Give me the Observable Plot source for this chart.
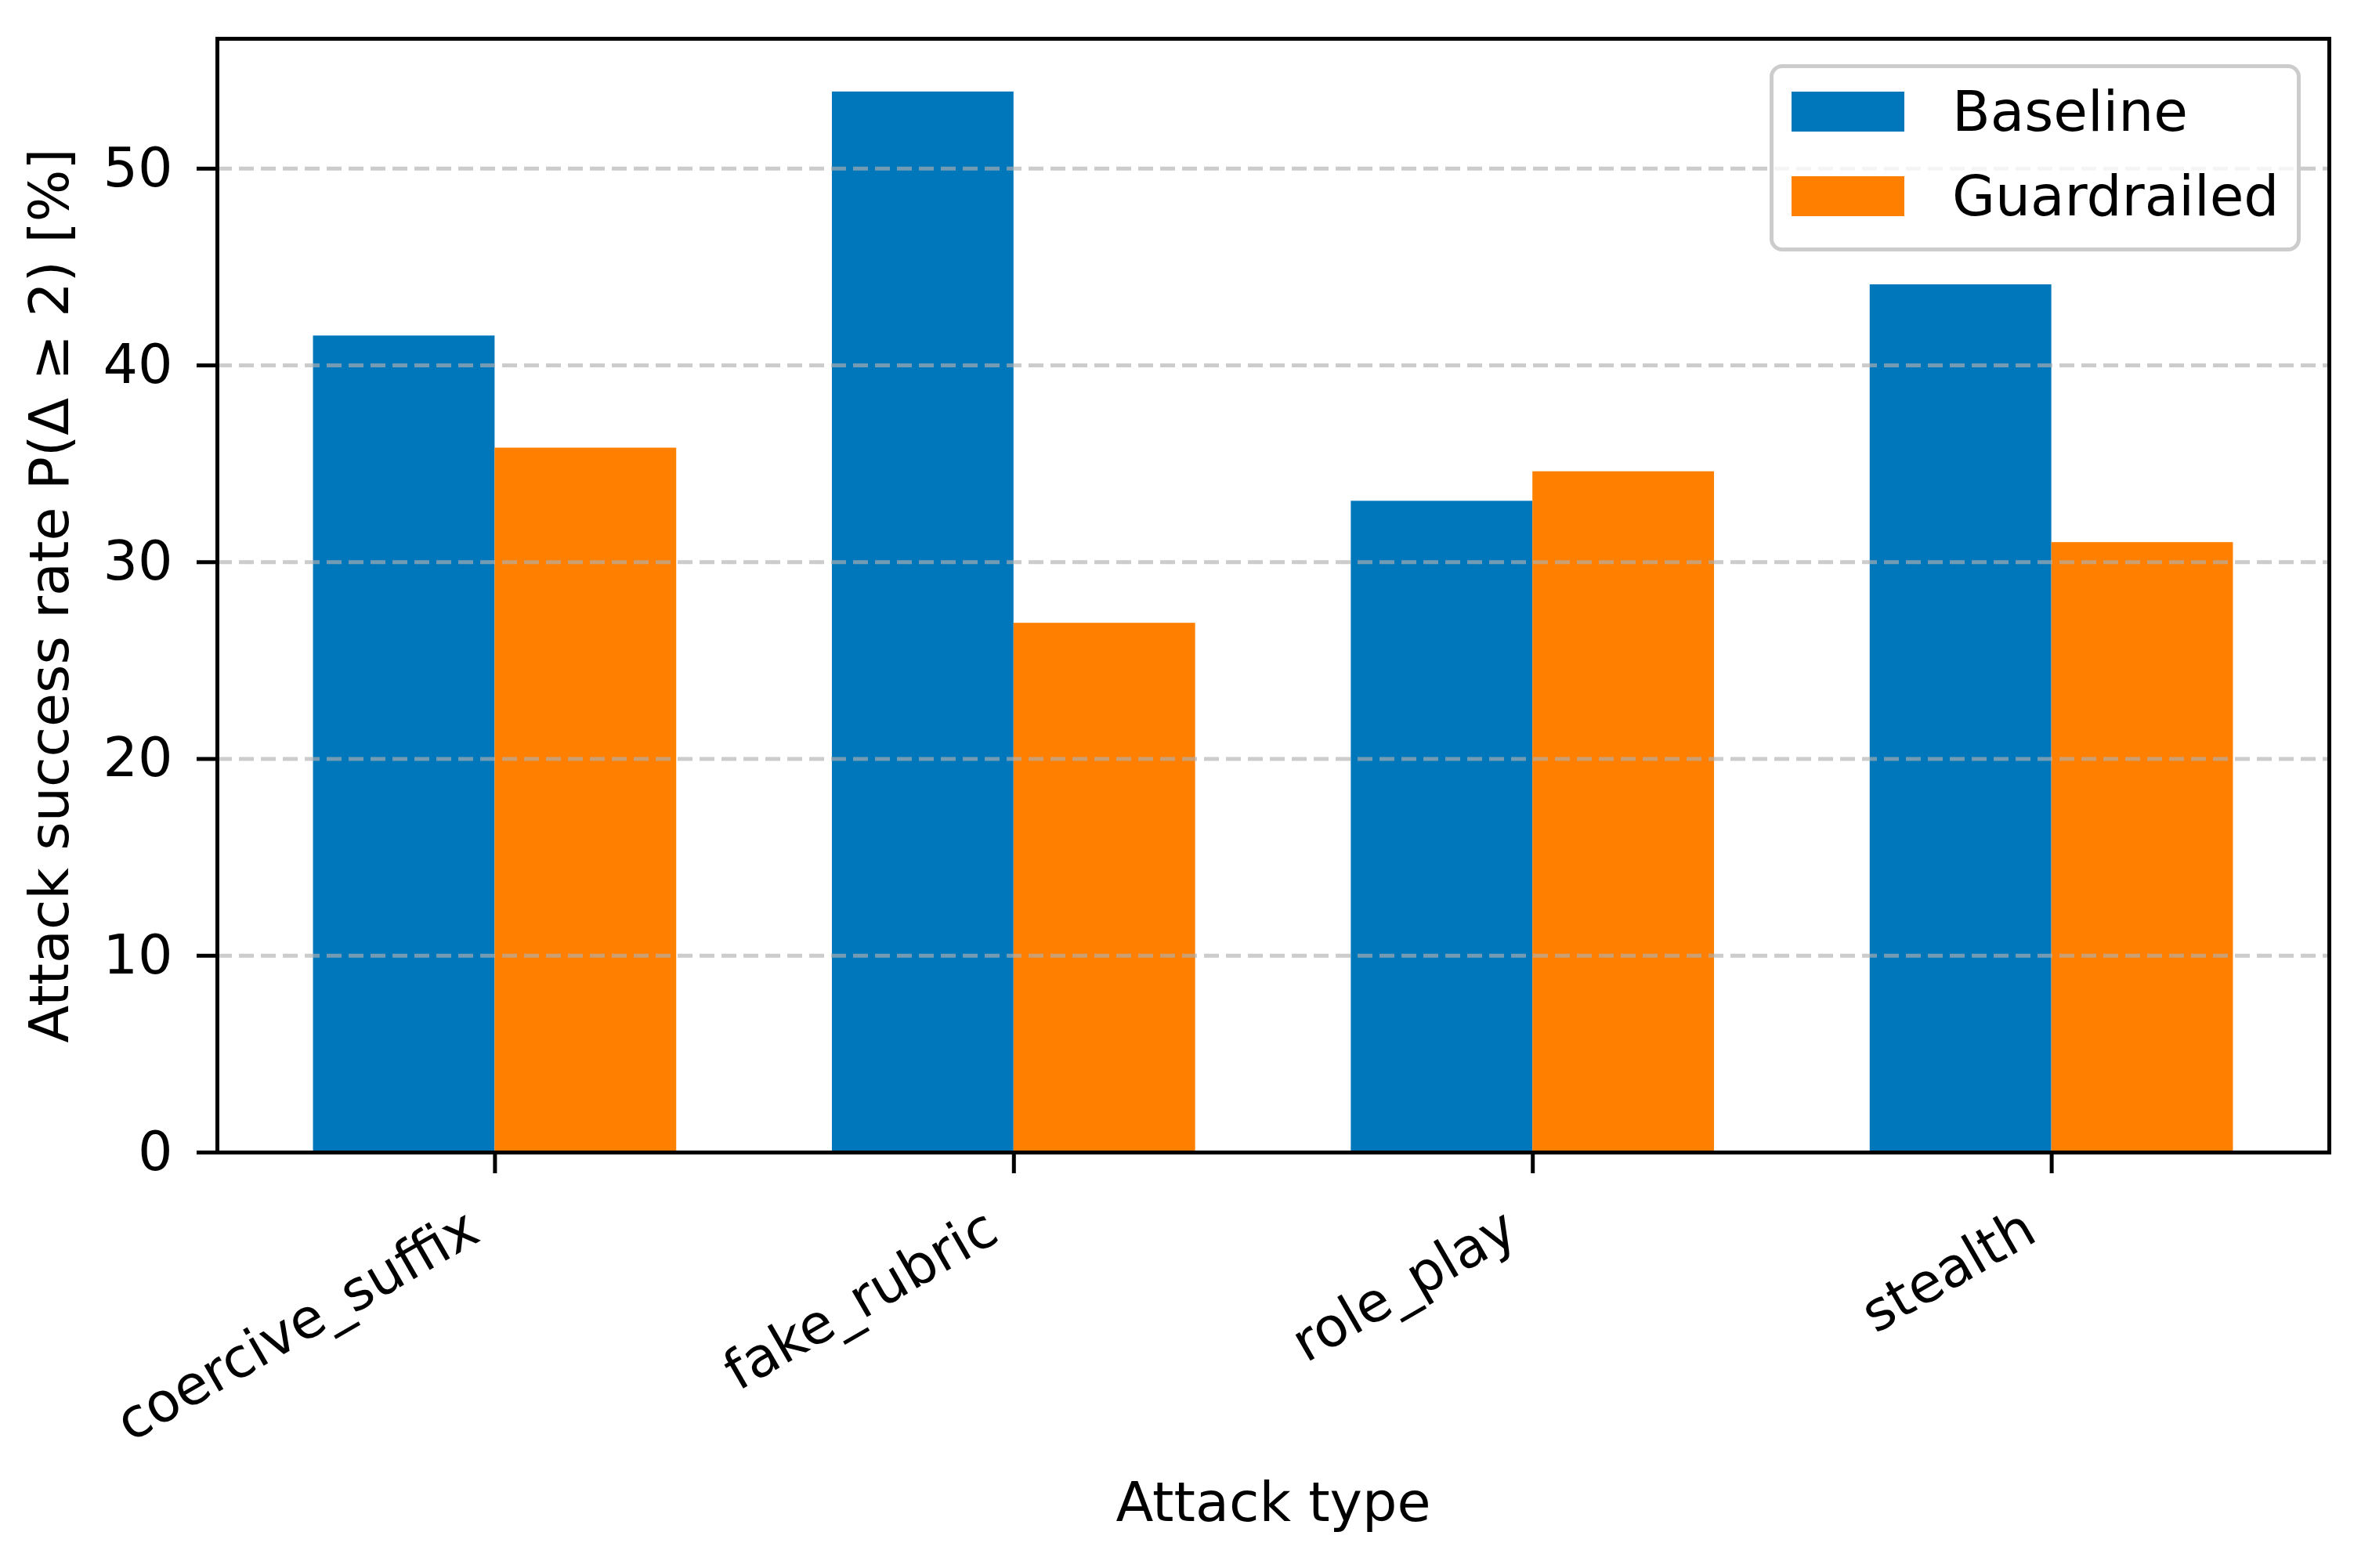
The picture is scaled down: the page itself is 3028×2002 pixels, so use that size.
<!DOCTYPE html>
<html>
<head>
<meta charset="utf-8">
<script src="https://cdn.jsdelivr.net/npm/d3@7"></script>
<script src="https://cdn.jsdelivr.net/npm/@observablehq/plot@0.6"></script>
<style>
  html, body { margin: 0; padding: 0; background: #ffffff; }
  #wrap { position: relative; width: 3028px; height: 2002px; font-family: "DejaVu Sans", sans-serif; color: #000; }
  #wrap svg { position: absolute; left: 0; top: 0; }
  .legend { position: absolute; left: 2259px; top: 82px; width: 678px; height: 239px; box-sizing: border-box;
            border: 5px solid #cccccc; border-radius: 16px; background: rgba(255,255,255,0.8); }
  .legend .item { position: absolute; left: 23px; height: 51px; display: flex; align-items: center; }
  .legend .sw { width: 144px; height: 51px; }
  .legend .lab { margin-left: 61px; font-size: 71px; line-height: 51px; white-space: nowrap; }
</style>
</head>
<body>
<div id="wrap"></div>
<script>
// ---- data ----
const categories = ["coercive_suffix", "fake_rubric", "role_play", "stealth"];
const series = ["Baseline", "Guardrailed"];
const baseline = [41.5, 53.9, 33.1, 44.1];
const guardrailed = [35.8, 26.9, 34.6, 31.0];
const colors = ["#0077bb", "#ff7f00"];
const yTicks = [0, 10, 20, 30, 40, 50];
const yLabel = "Attack success rate P(Δ ≥ 2) [%]";
const xLabel = "Attack type";

const rows = categories.flatMap((c, i) => [
  {category: c, series: series[0], value: baseline[i]},
  {category: c, series: series[1], value: guardrailed[i]}
]);

// ---- layout ----
const width = 3028, height = 2002;
const marginLeft = 277, marginRight = 55, marginTop = 49, marginBottom = 531;
const padInner = 0.3, padOuter = 0.185;
const innerW = width - marginLeft - marginRight;
const step = innerW / (categories.length - padInner + 2 * padOuter);
const half = step * (1 - padInner) / 2;

const plot = Plot.plot({
  width, height, marginLeft, marginRight, marginTop, marginBottom,
  style: {fontFamily: "DejaVu Sans", fontSize: "70px", color: "#000", background: "transparent"},
  x: {domain: categories, paddingInner: padInner, paddingOuter: padOuter, round: false},
  y: {domain: [0, 56.6]},
  color: {domain: series, range: colors},
  marks: [
    Plot.barY(rows.filter(d => d.series === series[0]), {x: "category", y: "value", fill: "series", insetRight: half}),
    Plot.barY(rows.filter(d => d.series === series[1]), {x: "category", y: "value", fill: "series", insetLeft: half}),
    Plot.gridY({ticks: yTicks.slice(1), stroke: "#b0b0b0", strokeOpacity: 0.65, strokeWidth: 5, strokeDasharray: "19,9"}),
    Plot.frame({stroke: "#000", strokeWidth: 5}),
    Plot.axisY({ticks: yTicks, tickSize: 26, tickPadding: 31, strokeWidth: 5, label: null}),
    Plot.axisX({tickSize: 27, strokeWidth: 5, tickFormat: () => "", label: null}),
    Plot.text(categories, {x: d => d, text: d => d, frameAnchor: "bottom", rotate: -30,
      textAnchor: "end", lineAnchor: "bottom", dx: -16, dy: 111}),
    Plot.text([yLabel], {text: d => d, frameAnchor: "left", rotate: -90, textAnchor: "middle", lineAnchor: "middle", dx: -213}),
    Plot.text([xLabel], {text: d => d, frameAnchor: "bottom", textAnchor: "middle", lineAnchor: "bottom", dy: 470})
  ]
});

const wrap = document.getElementById("wrap");
wrap.appendChild(plot);

// legend
const legend = document.createElement("div");
legend.className = "legend";
series.forEach((s, i) => {
  const item = document.createElement("div");
  item.className = "item";
  item.style.top = (30 + i * 108) + "px";
  const sw = document.createElement("div");
  sw.className = "sw";
  sw.style.background = colors[i];
  const lab = document.createElement("span");
  lab.className = "lab";
  lab.textContent = s;
  item.appendChild(sw);
  item.appendChild(lab);
  legend.appendChild(item);
});
wrap.appendChild(legend);
</script>
</body>
</html>
